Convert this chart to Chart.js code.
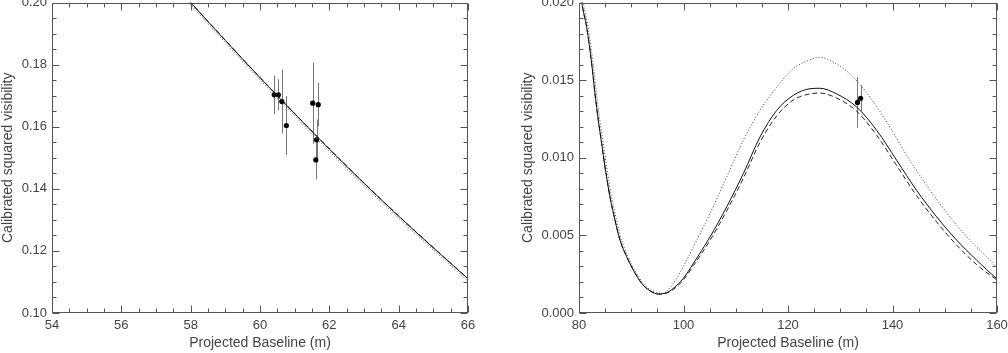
<!DOCTYPE html>
<html>
<head>
<meta charset="utf-8">
<script src="https://cdn.jsdelivr.net/npm/chart.js@4/dist/chart.umd.min.js"></script>
<style>
  html, body { margin: 0; padding: 0; background: #fff; }
  #wrap { position: relative; width: 1008px; height: 353px; overflow: hidden; }
  canvas { position: absolute; top: 0; }
  #c1 { left: 0; }
  #c2 { left: 504px; }
</style>
</head>
<body>
<div id="wrap">
  <canvas id="c1" width="504" height="353"></canvas>
  <canvas id="c2" width="504" height="353"></canvas>
</div>
<script>
// ---------------- Data ----------------
// Left panel: model curves
const leftCurveX     = [57.8, 58, 59, 60, 61, 62, 63, 64, 65, 66];
const leftSolidY     = [0.2025, 0.2000, 0.1878, 0.1758, 0.1642, 0.1528, 0.1418, 0.1312, 0.1210, 0.1110];
const leftDashedY    = [0.2026, 0.2001, 0.1879, 0.1759, 0.1643, 0.1529, 0.1419, 0.1313, 0.1211, 0.1111];
const leftDottedY    = [0.2018, 0.1993, 0.1871, 0.1751, 0.1635, 0.1521, 0.1411, 0.1305, 0.1203, 0.1103];
// Left panel: measurements
const leftPointX     = [60.41, 60.53, 60.63, 60.76, 61.52, 61.68, 61.63, 61.61];
const leftPointY     = [0.1703, 0.1703, 0.1681, 0.1604, 0.1676, 0.1671, 0.1558, 0.1493];
const leftPointErr   = [0.0062, 0.0050, 0.0103, 0.0095, 0.0131, 0.0070, 0.0065, 0.0062];

// Right panel: model curves
const rightSolidX  = [80.0, 80.5, 81.47, 82.43, 83.06, 83.7, 84.34, 84.98, 85.93, 86.89, 87.85, 89.13, 90.39, 92.0, 93.59, 95.18,
                      96.78, 98.05, 99.96, 101.9, 105.07, 108.27, 111.45, 114.64, 117.84, 121.0, 124.2, 126.1, 129.3,
                      133.15, 136.98, 140.8, 144.6, 148.46, 152.3, 156.1, 159.9, 161.0];
const rightSolidY  = [0.0218, 0.0201, 0.01841, 0.01606, 0.01413, 0.01241, 0.01091, 0.00941, 0.00748, 0.00598, 0.00469, 0.00362, 0.00277, 0.00191, 0.00143, 0.00122,
                      0.00131, 0.00159, 0.00223, 0.00320, 0.00490, 0.00684, 0.00898, 0.01134, 0.01305, 0.01402, 0.01445, 0.01448, 0.01412,
                      0.01327, 0.01177, 0.00984, 0.00791, 0.00619, 0.00469, 0.00341, 0.00223, 0.00195];
const rightDashedX = [80.0, 80.5, 81.47, 82.43, 83.06, 83.7, 84.34, 84.98, 85.93, 86.89, 87.85, 89.13, 90.39, 92.0, 93.59, 95.18,
                      96.78, 98.05, 99.96, 101.9, 105.07, 108.27, 111.45, 114.64, 117.84, 121.0, 124.2, 126.1, 129.3,
                      133.15, 136.98, 140.8, 144.6, 148.46, 152.3, 156.1, 159.9, 161.0];
const rightDashedY = [0.0218, 0.0201, 0.01841, 0.01606, 0.01413, 0.01241, 0.01091, 0.00941, 0.00748, 0.00598, 0.00469, 0.00362, 0.00277, 0.00191, 0.00143, 0.00122,
                      0.00128, 0.00152, 0.00212, 0.00305, 0.00468, 0.00658, 0.00868, 0.01100, 0.01270, 0.01372, 0.01412, 0.01417, 0.01385,
                      0.01300, 0.01145, 0.00950, 0.00757, 0.00586, 0.00437, 0.00312, 0.00215, 0.00190];
const rightDottedX = [80.3, 80.8, 81.75, 82.7, 83.35, 84.0, 84.65, 85.3, 86.25, 87.2, 88.15, 89.4, 90.6, 92.2, 93.9, 96.1,
                      98.05, 99.96, 101.9, 105.07, 108.27, 111.45, 114.64, 117.84, 121.0, 124.2, 126.1, 129.0,
                      131.8, 135.7, 139.5, 143.3, 147.2, 151.0, 154.8, 158.66, 160.0, 161.0];
const rightDottedY = [0.0218, 0.0201, 0.01841, 0.01606, 0.01413, 0.01241, 0.01091, 0.00941, 0.00748, 0.00598, 0.00469, 0.00362, 0.00280, 0.00195, 0.00145, 0.00127,
                      0.00190, 0.00298, 0.00426, 0.00641, 0.00877, 0.01113, 0.01305, 0.01455, 0.01574, 0.01631, 0.01648, 0.01610,
                      0.01542, 0.01391, 0.01198, 0.00984, 0.00791, 0.00619, 0.00469, 0.00341, 0.00290, 0.00262];
// Right panel: measurements
const rightPointX   = [133.3, 133.9];
const rightPointY   = [0.01357, 0.01383];
const rightPointErr = [0.00163, 0.00085];

// Axis ranges / tick steps
const leftXRange  = [54, 66],    leftXMajor = 2,    leftXMinor = 0.5;
const leftYRange  = [0.10, 0.20], leftYMajor = 0.02, leftYMinor = 0.005;
const rightXRange = [80, 160],   rightXMajor = 20,  rightXMinor = 5;
const rightYRange = [0, 0.020],  rightYMajor = 0.005, rightYMinor = 0.001;

const xLabel = 'Projected Baseline (m)';
const yLabel = 'Calibrated squared visibility';

// ---------------- Helpers ----------------
const zip = (xs, ys) => xs.map((x, i) => ({x, y: ys[i]}));
const FONT = "'Liberation Sans', Arial, Helvetica, sans-serif";
const TEXT = '#444';
const AXIS = '#555';

const framePlugin = {
  id: 'frameTicks',
  afterDatasetsDraw(chart, args, o) {
    const {ctx, chartArea: a, scales: {x, y}} = chart;
    ctx.save();
    ctx.strokeStyle = AXIS;
    ctx.lineWidth = 1;
    const L = Math.round(a.left) + 0.5, R = Math.round(a.right) - 0.5;
    const T = Math.round(a.top) + 0.5, B = Math.round(a.bottom) - 0.5;
    ctx.strokeRect(L, T, R - L, B - T);
    ctx.beginPath();
    const nx = Math.round((o.xr[1] - o.xr[0]) / o.xMinor);
    for (let i = 0; i <= nx; i++) {
      const v = o.xr[0] + i * o.xMinor;
      const major = Math.abs(v / o.xMajor - Math.round(v / o.xMajor)) < 1e-6;
      const len = major ? 7 : 4;
      const p = Math.round(x.getPixelForValue(v)) + 0.5;
      ctx.moveTo(p, B); ctx.lineTo(p, B - len);
      ctx.moveTo(p, T); ctx.lineTo(p, T + len);
    }
    const ny = Math.round((o.yr[1] - o.yr[0]) / o.yMinor);
    for (let i = 0; i <= ny; i++) {
      const v = o.yr[0] + i * o.yMinor;
      const major = Math.abs(v / o.yMajor - Math.round(v / o.yMajor)) < 1e-6;
      const len = major ? 7 : 4;
      const p = Math.round(y.getPixelForValue(v)) + 0.5;
      ctx.moveTo(L, p); ctx.lineTo(L + len, p);
      ctx.moveTo(R, p); ctx.lineTo(R - len, p);
    }
    ctx.stroke();
    ctx.restore();
  }
};

const errPlugin = {
  id: 'errBars',
  beforeDatasetsDraw(chart, args, o) {
    const {ctx, scales: {x, y}} = chart;
    ctx.save();
    ctx.strokeStyle = '#777';
    ctx.lineWidth = 1;
    ctx.beginPath();
    o.px.forEach((xv, i) => {
      const p = Math.round(x.getPixelForValue(xv)) + 0.5;
      ctx.moveTo(p, y.getPixelForValue(o.py[i] - o.pe[i]));
      ctx.lineTo(p, y.getPixelForValue(o.py[i] + o.pe[i]));
    });
    ctx.stroke();
    ctx.restore();
  }
};

function curve(data, dash, color) {
  return {
    data, showLine: true, pointRadius: 0, borderWidth: 1, borderColor: color,
    borderDash: dash, cubicInterpolationMode: 'monotone', fill: false
  };
}

function makeChart(id, cfg) {
  const yFmt = cfg.yDec;
  return new Chart(document.getElementById(id), {
    type: 'scatter',
    data: {
      datasets: [
        curve(cfg.solid, [], '#111'),
        curve(cfg.dashed, [5, 3], '#222'),
        curve(cfg.dotted, [1, 2], '#444'),
        {
          data: cfg.points, showLine: false, pointRadius: 2.6, pointHoverRadius: 2.6,
          backgroundColor: '#000', borderColor: '#000', borderWidth: 0
        }
      ]
    },
    options: {
      responsive: false, animation: false, devicePixelRatio: 1,
      layout: { padding: cfg.padding },
      plugins: {
        legend: { display: false }, tooltip: { enabled: false },
        frameTicks: { xr: cfg.xr, yr: cfg.yr, xMajor: cfg.xMajor, xMinor: cfg.xMinor, yMajor: cfg.yMajor, yMinor: cfg.yMinor },
        errBars: { px: cfg.px, py: cfg.py, pe: cfg.pe }
      },
      scales: {
        x: {
          type: 'linear', min: cfg.xr[0], max: cfg.xr[1],
          grid: { display: false, drawTicks: false }, border: { display: false },
          ticks: {
            stepSize: cfg.xMajor, autoSkip: false, maxRotation: 0, padding: 5,
            color: TEXT, font: { family: FONT, size: 13 },
            callback: v => String(Math.round(v))
          },
          title: { display: true, text: xLabel, color: TEXT, font: { family: FONT, size: 14 }, padding: { top: 0, bottom: 1 } },
          afterFit(s) { s.height = 40; s.paddingLeft = 0; s.paddingRight = 0; }
        },
        y: {
          type: 'linear', min: cfg.yr[0], max: cfg.yr[1],
          grid: { display: false, drawTicks: false }, border: { display: false },
          ticks: {
            stepSize: cfg.yMajor, autoSkip: false, padding: 5,
            color: TEXT, font: { family: FONT, size: 13 },
            callback: v => Number(v).toFixed(yFmt)
          },
          title: { display: true, text: yLabel, color: TEXT, font: { family: FONT, size: 14 }, padding: { top: 0, bottom: 0 } },
          afterFit(s) { s.width = cfg.yWidth; s.paddingTop = 0; s.paddingBottom = 0; }
        }
      }
    },
    plugins: [errPlugin, framePlugin]
  });
}

makeChart('c1', {
  solid: zip(leftCurveX, leftSolidY),
  dashed: zip(leftCurveX, leftDashedY),
  dotted: zip(leftCurveX, leftDottedY),
  points: zip(leftPointX, leftPointY),
  px: leftPointX, py: leftPointY, pe: leftPointErr,
  xr: leftXRange, yr: leftYRange,
  xMajor: leftXMajor, xMinor: leftXMinor, yMajor: leftYMajor, yMinor: leftYMinor,
  yDec: 2, yWidth: 52,
  padding: { left: 0, top: 2, right: 36, bottom: 0 }
});

makeChart('c2', {
  solid: zip(rightSolidX, rightSolidY),
  dashed: zip(rightDashedX, rightDashedY),
  dotted: zip(rightDottedX, rightDottedY),
  points: zip(rightPointX, rightPointY),
  px: rightPointX, py: rightPointY, pe: rightPointErr,
  xr: rightXRange, yr: rightYRange,
  xMajor: rightXMajor, xMinor: rightXMinor, yMajor: rightYMajor, yMinor: rightYMinor,
  yDec: 3, yWidth: 59,
  padding: { left: 16, top: 2, right: 11, bottom: 0 }
});
</script>
</body>
</html>
